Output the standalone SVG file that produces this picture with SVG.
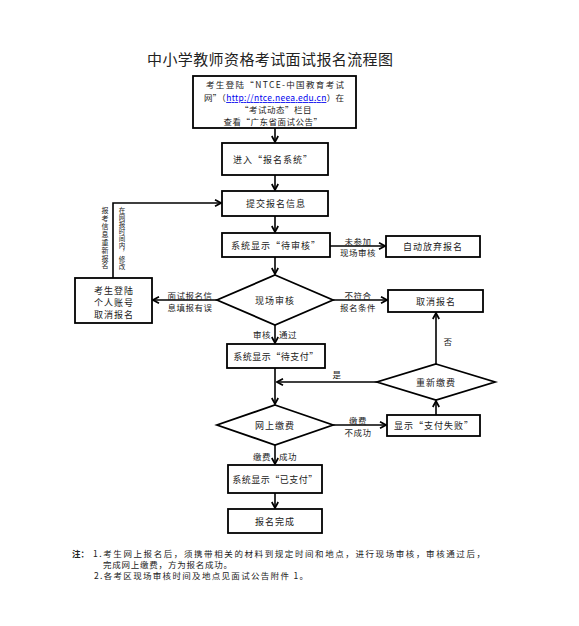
<svg xmlns="http://www.w3.org/2000/svg" width="579" height="626" viewBox="0 0 579 626">
<style>
text{font-family:"Noto Sans CJK SC","Liberation Sans",sans-serif;fill:#222;}
.t{font-size:9px;text-anchor:middle;dominant-baseline:central;letter-spacing:1px;}
.l{font-size:8.5px;text-anchor:middle;dominant-baseline:central;letter-spacing:0.5px;}
.v{writing-mode:vertical-rl;text-anchor:start;}
.n{font-size:8.5px;dominant-baseline:central;}
.box{fill:#fff;stroke:#000;stroke-width:1.8;}
.edge{fill:none;stroke:#000;stroke-width:1.6;marker-end:url(#ah);}
</style>
<defs>
<marker id="ah" viewBox="0 0 8 8" refX="7" refY="4" markerWidth="8" markerHeight="8" markerUnits="userSpaceOnUse" orient="auto">
<path d="M1,0.8 L7,4 L1,7.2" fill="none" stroke="#000" stroke-width="1.7"/>
</marker>
</defs>
<rect width="579" height="626" fill="#fff"/>
<text x="270" y="58" style="font-size:15px;text-anchor:middle;dominant-baseline:central;" textLength="246">中小学教师资格考试面试报名流程图</text>

<g id="connectors">
<path class="edge" d="M275,128 L275,142"/>
<path class="edge" d="M275,175 L275,190"/>
<path class="edge" d="M275,216 L275,232"/>
<path class="edge" d="M330,246 L385,246"/>
<path class="edge" d="M275,257 L275,274"/>
<path class="edge" d="M217,300 L153,300"/>
<path class="edge" d="M113,278 L113,203 L221,203"/>
<path class="edge" d="M333,300 L387,300"/>
<path class="edge" d="M275,325 L275,343"/>
<path class="edge" d="M275,368 L275,404"/>
<path class="edge" d="M377,382 L277,382"/>
<path class="edge" d="M436,364 L436,313"/>
<path class="edge" d="M333,425 L386,425"/>
<path class="edge" d="M436,415 L436,401"/>
<path class="edge" d="M275,445 L275,464"/>
<path class="edge" d="M275,493 L275,508"/>
<text class="l" x="358" y="241">未参加</text>
<text class="l" x="358" y="252">现场审核</text>
<text class="l" x="190" y="295">面试报名信</text>
<text class="l" x="190" y="307">息填报有误</text>
<text class="l" x="358" y="295">不符合</text>
<text class="l" x="358" y="307">报名条件</text>
<text class="l" x="262" y="334">审核</text>
<text class="l" x="288" y="334">通过</text>
<text class="l" x="337" y="374">是</text>
<text class="l" x="448" y="341">否</text>
<text class="l" x="358" y="420">缴费</text>
<text class="l" x="358" y="432">不成功</text>
<text class="l" x="262" y="456">缴费</text>
<text class="l" x="288" y="456">成功</text>
<text class="v" x="105" y="207" style="font-size:7px;letter-spacing:0.9px">报考信息重新报名</text>
<text class="v" x="122" y="207" style="font-size:6.5px;letter-spacing:0.5px">在网报时间内，修改</text>
</g>

<g id="n1"><rect class="box" x="193" y="76" width="163" height="52" stroke-width="2.2"/>
<text class="l" x="275" y="84" textLength="138" style="letter-spacing:0">考生登陆“NTCE-中国教育考试</text>
<text class="l" x="274" y="97" textLength="140" style="letter-spacing:0">网”（<tspan text-decoration="underline" style="fill:#0000ee">http://ntce.neea.edu.cn</tspan>）在</text>
<text class="l" x="276" y="109">“考试动态”栏目</text>
<text class="l" x="273" y="121">查看“广东省面试公告”</text></g>
<g id="n2"><rect class="box" x="222" y="143" width="106" height="32"/><text class="t" x="273" y="159">进入“报名系统”</text></g>
<g id="n3"><rect class="box" x="222" y="191" width="106" height="25"/><text class="t" x="276" y="203.5">提交报名信息</text></g>
<g id="n4"><rect class="box" x="222" y="233" width="108" height="24"/><text class="t" x="276" y="245">系统显示“待审核”</text></g>
<g id="n5"><rect class="box" x="386" y="236" width="94" height="21"/><text class="t" x="433" y="246.5">自动放弃报名</text></g>
<g id="n6"><polygon class="box" points="275,275 333,300 275,325 217,300"/><text class="t" x="275" y="300">现场审核</text></g>
<g id="n7"><rect class="box" x="75" y="278" width="77" height="45"/>
<text class="t" x="114" y="290">考生登陆</text><text class="t" x="114" y="302">个人账号</text><text class="t" x="114" y="314">取消报名</text></g>
<g id="n8"><rect class="box" x="388" y="290" width="95" height="22"/><text class="t" x="436" y="301">取消报名</text></g>
<g id="n9"><rect class="box" x="227" y="344" width="98" height="24"/><text class="t" x="276" y="356" style="letter-spacing:0.5px">系统显示“待支付”</text></g>
<g id="n10"><polygon class="box" points="436,364 495,382 436,400 377,382"/><text class="t" x="436" y="382">重新缴费</text></g>
<g id="n11"><polygon class="box" points="275,405 333,425 275,445 217,425"/><text class="t" x="275" y="425">网上缴费</text></g>
<g id="n12"><rect class="box" x="387" y="415" width="93" height="21"/><text class="t" x="434" y="425.5">显示“支付失败”</text></g>
<g id="n13"><rect class="box" x="228" y="465" width="94" height="28"/><text class="t" x="275" y="479" style="letter-spacing:0.5px">系统显示“已支付”</text></g>
<g id="n14"><rect class="box" x="228" y="509" width="94" height="24"/><text class="t" x="275" y="521">报名完成</text></g>

<g id="notes">
<text class="n" x="72" y="553" style="font-weight:bold">注：</text>
<text class="n" x="93" y="553" textLength="392">1.考生网上报名后，须携带相关的材料到规定时间和地点，进行现场审核，审核通过后，</text>
<text class="n" x="103" y="564" textLength="129">完成网上缴费，方为报名成功。</text>
<text class="n" x="94" y="575" textLength="214">2.各考区现场审核时间及地点见面试公告附件 1。</text>
</g>
</svg>
